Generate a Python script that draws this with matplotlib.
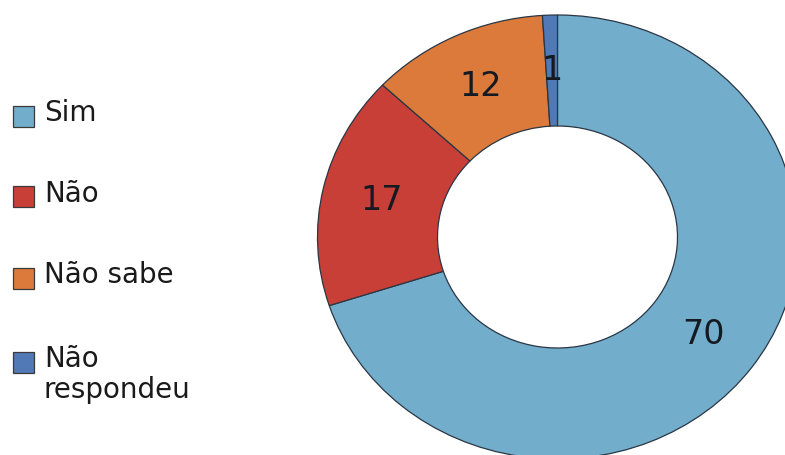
import matplotlib
matplotlib.use('Agg')
import matplotlib.pyplot as plt
from matplotlib.patches import Rectangle

# Data
labels = ["Sim", "Não", "Não sabe", "Não\nrespondeu"]
values = [70, 17, 12, 1]
colors = ["#72ADCB", "#C83F37", "#DB7A3A", "#5079B5"]

W, H = 785, 455
fig = plt.figure(figsize=(W / 100, H / 100), dpi=100)
ax = fig.add_axes([0, 0, 1, 1])

total = sum(values)
wedges, texts, autotexts = ax.pie(
    values, colors=colors, startangle=90, counterclock=False,
    radius=1.0, wedgeprops=dict(width=0.5, edgecolor="#2a3644", linewidth=0.9),
    autopct=lambda p: "%d" % round(p * total / 100), pctdistance=0.75,
    textprops=dict(fontsize=24, color="#151a22"))

# the original image is slightly squashed vertically
cx, cy = 557.5, H - 237
rx, ry = 240.0, 222.0
ax.set_aspect('auto')
ax.set_xlim(-cx / rx, (W - cx) / rx)
ax.set_ylim(-cy / ry, (H - cy) / ry)
ax.axis('off')

# Legend drawn by hand (squares + text)
ys = [116, 197, 278, 362]
sq = 21
for lab, col, y in zip(labels, colors, ys):
    fig.patches.append(Rectangle((13 / W, 1 - (y + sq / 2) / H), sq / W, sq / H,
                                 transform=fig.transFigure, facecolor=col,
                                 edgecolor="#3a3a3a", linewidth=0.9))
    for i, line in enumerate(lab.split("\n")):
        fig.text(44 / W, 1 - (y - 3 + i * 31) / H, line, fontsize=20,
                 va='center', ha='left', color="#1a1a1a")

fig.savefig("out.png", dpi=100)
